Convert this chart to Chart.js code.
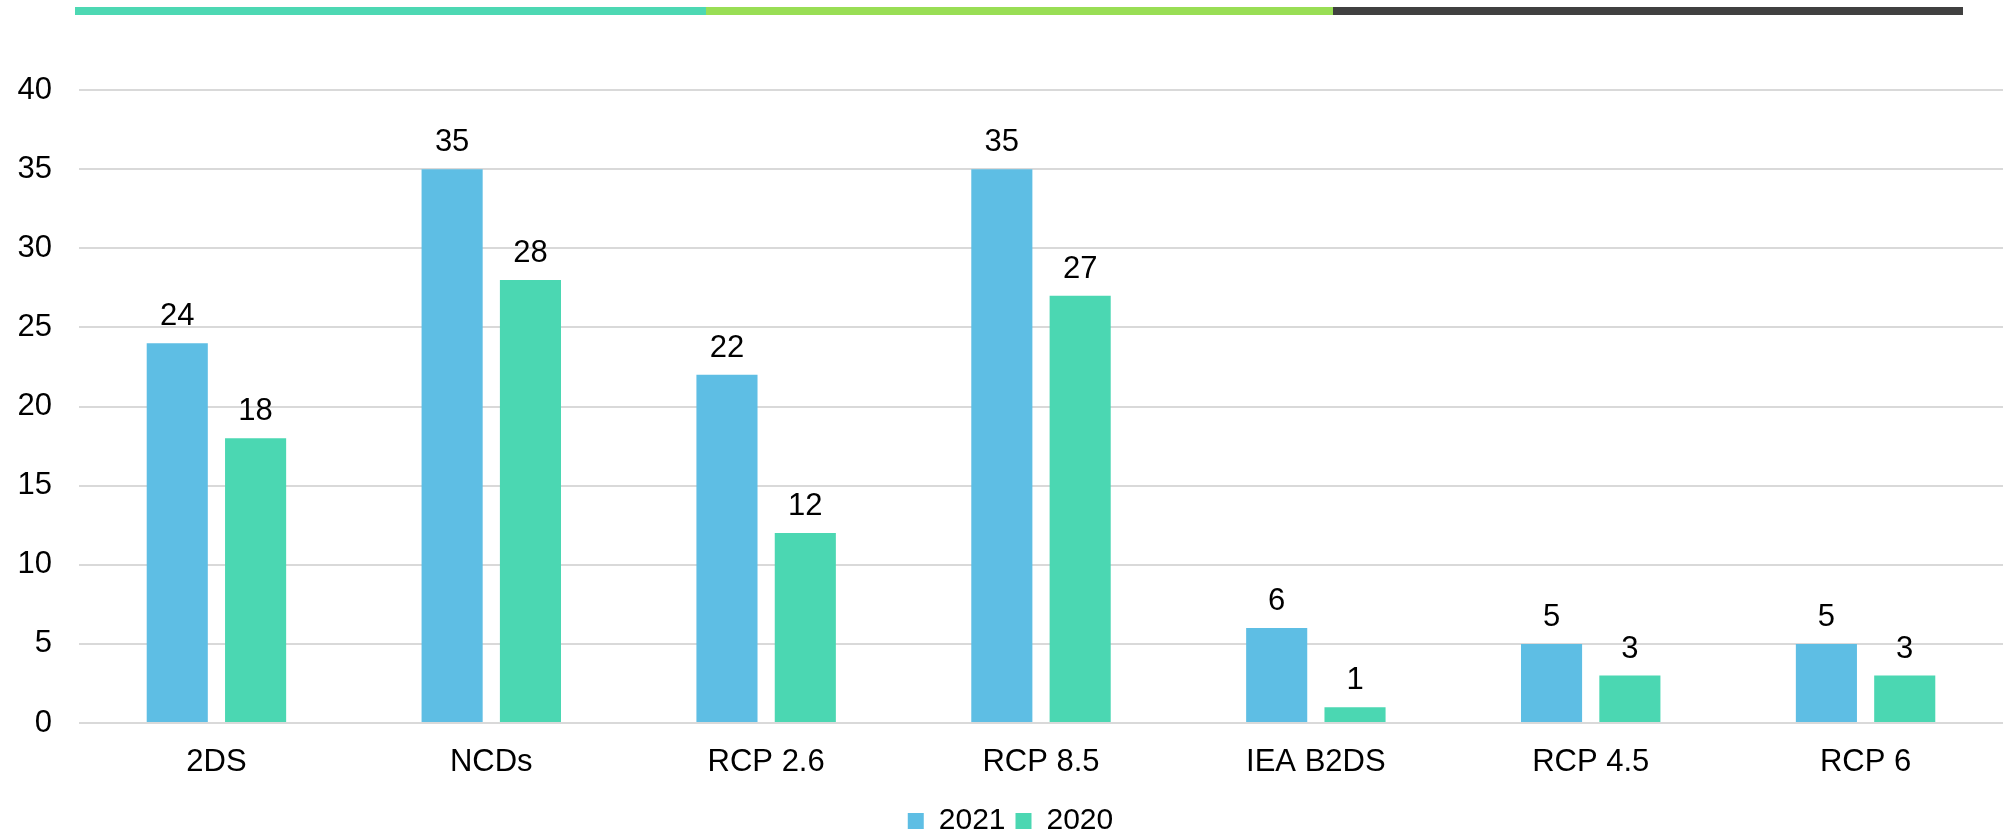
<!DOCTYPE html>
<html>
<head>
<meta charset="utf-8">
<script src="https://cdn.jsdelivr.net/npm/chart.js@4/dist/chart.umd.min.js"></script>
<style>
  html, body { margin: 0; padding: 0; background: #fff; overflow: hidden; }
  #clip { position: relative; width: 2003px; height: 835px; overflow: hidden; }
  #wrap { position: absolute; left: 0; top: 0; width: 2003px; height: 846px; }
  .band { position: absolute; top: 7px; height: 8px; }
</style>
</head>
<body>
<div id="clip">
  <div class="band" style="left:75px;width:631px;background:#4dd8b3"></div>
  <div class="band" style="left:706px;width:627px;background:#99de55"></div>
  <div class="band" style="left:1333px;width:630px;background:#404040"></div>
  <div id="wrap"><canvas id="chart"></canvas></div>
</div>
<script>
const categories = ['2DS', 'NCDs', 'RCP 2.6', 'RCP 8.5', 'IEA B2DS', 'RCP 4.5', 'RCP 6'];
const values2021 = [24, 35, 22, 35, 6, 5, 5];
const values2020 = [18, 28, 12, 27, 1, 3, 3];
const yTicks = [0, 5, 10, 15, 20, 25, 30, 35, 40];

const FONT = "'Liberation Sans', Arial, sans-serif";

// value labels above every bar
const barValues = {
  id: 'barValues',
  afterDatasetsDraw(chart) {
    const ctx = chart.ctx;
    ctx.save();
    ctx.font = '31px ' + FONT;
    ctx.fillStyle = '#000';
    ctx.textAlign = 'center';
    ctx.textBaseline = 'alphabetic';
    chart.data.datasets.forEach((ds, i) => {
      chart.getDatasetMeta(i).data.forEach((bar, j) => {
        ctx.fillText(String(ds.data[j]), bar.x, bar.y - 18);
      });
    });
    ctx.restore();
  }
};

new Chart(document.getElementById('chart'), {
  type: 'bar',
  data: {
    labels: categories,
    datasets: [
      { label: '2021', data: values2021, backgroundColor: '#5ebee4' },
      { label: '2020', data: values2020, backgroundColor: '#4bd7b2' }
    ]
  },
  options: {
    responsive: true,
    maintainAspectRatio: false,
    animation: false,
    devicePixelRatio: 1,
    categoryPercentage: 0.57,
    barPercentage: 0.78,
    layout: { padding: { top: 90, left: 18, right: 0, bottom: 0 } },
    plugins: {
      legend: {
        position: 'bottom',
        labels: {
          font: { family: FONT, size: 30 },
          color: '#000',
          boxWidth: 16,
          boxHeight: 16,
          padding: 10
        }
      },
      tooltip: { enabled: false }
    },
    scales: {
      x: {
        grid: { display: false, drawTicks: false },
        border: { display: false },
        ticks: { font: { family: FONT, size: 31 }, color: '#000', padding: 21 },
        afterFit(axis) { axis.height = 73; }
      },
      y: {
        min: 0,
        max: 40,
        afterBuildTicks(axis) { axis.ticks = yTicks.map(v => ({ value: v })); },
        grid: { color: '#d9d9d9', lineWidth: 2, drawTicks: false },
        border: { display: false },
        ticks: { font: { family: FONT, size: 31 }, color: '#000', padding: 27 },
        afterFit(axis) { axis.width = 61; }
      }
    }
  },
  plugins: [barValues]
});
</script>
</body>
</html>
